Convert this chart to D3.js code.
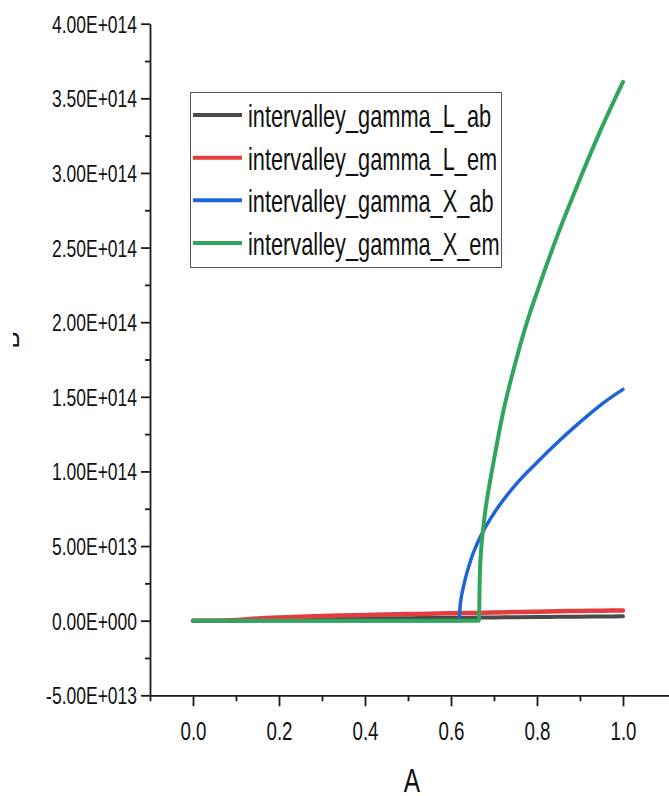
<!DOCTYPE html>
<html>
<head>
<meta charset="utf-8">
<script src="https://cdn.jsdelivr.net/npm/d3@7"></script>
<style>
  html, body { margin: 0; padding: 0; background: #fff; }
  svg { display: block; }
  text { font-family: "Liberation Sans", Arial, sans-serif; fill: #111; }
</style>
</head>
<body>
<svg id="chart" width="669" height="796"></svg>
<script>
// Composition parameter A (x axis)
const gridA = [0, 0.05, 0.1, 0.15, 0.2, 0.25, 0.3, 0.35, 0.4, 0.45, 0.5,
               0.55, 0.6, 0.65, 0.7, 0.75, 0.8, 0.85, 0.9, 0.95, 1.0];

// Intervalley scattering rates Γ→L (absorption / emission)
const gammaLab = [0, 0, 0, 0.4e12, 0.7e12, 0.9e12, 1.1e12, 1.3e12, 1.4e12, 1.6e12, 1.7e12,
                  1.8e12, 1.9e12, 2.0e12, 2.2e12, 2.3e12, 2.4e12, 2.6e12, 2.7e12, 2.8e12, 2.9e12];
const gammaLem = [0, 0, 0.4e12, 1.5e12, 2.2e12, 2.7e12, 3.1e12, 3.5e12, 3.8e12, 4.1e12, 4.4e12,
                  4.7e12, 5.0e12, 5.2e12, 5.5e12, 5.8e12, 6.0e12, 6.3e12, 6.5e12, 6.7e12, 6.9e12];

// Intervalley scattering rates Γ→X (absorption / emission)
const gridXab = [0, 0.2, 0.4, 0.6, 0.618, 0.622, 0.63, 0.64, 0.65, 0.66, 0.675, 0.7,
                 0.75, 0.8, 0.85, 0.9, 0.95, 1.0];
const gammaXab = [0, 0, 0, 0, 0, 0.12e14, 0.24e14, 0.35e14, 0.44e14, 0.51e14, 0.60e14, 0.72e14,
                  0.91e14, 1.06e14, 1.20e14, 1.33e14, 1.45e14, 1.55e14];
const gridXem = [0, 0.2, 0.4, 0.6, 0.665, 0.667, 0.67, 0.675, 0.68, 0.69, 0.7, 0.72,
                 0.75, 0.78, 0.8, 0.85, 0.9, 0.95, 1.0];
const gammaXem = [0, 0, 0, 0, 0, 0.30e14, 0.47e14, 0.62e14, 0.74e14, 0.92e14, 1.08e14, 1.38e14,
                  1.73e14, 2.03e14, 2.20e14, 2.60e14, 2.96e14, 3.30e14, 3.61e14];

// Axis ticks
const xMajor = [0, 0.2, 0.4, 0.6, 0.8, 1.0];
const xMinor = [-0.1, 0.1, 0.3, 0.5, 0.7, 0.9];
const yMajor = [-5e13, 0, 5e13, 1e14, 1.5e14, 2e14, 2.5e14, 3e14, 3.5e14, 4e14];
const yMinor = [-2.5e13, 2.5e13, 7.5e13, 1.25e14, 1.75e14, 2.25e14, 2.75e14, 3.25e14, 3.75e14];

const seriesNames = ["intervalley_gamma_L_ab", "intervalley_gamma_L_em",
                     "intervalley_gamma_X_ab", "intervalley_gamma_X_em"];
const seriesColors = ["#4a4a4a", "#e43d40", "#1c64d8", "#2fa65c"];
const seriesWidths = [4, 4.5, 3.5, 4];

const series = [
  { xs: gridA, ys: gammaLab },
  { xs: gridA, ys: gammaLem },
  { xs: gridXab, ys: gammaXab },
  { xs: gridXem, ys: gammaXem }
].map((s, i) => ({
  name: seriesNames[i], color: seriesColors[i], width: seriesWidths[i],
  points: s.xs.map((a, j) => [a, s.ys[j]])
}));

const svg = d3.select("#chart");

const x = d3.scaleLinear().domain([-0.1, 1.107]).range([150, 669]);
const y = d3.scaleLinear().domain([-5e13, 4e14]).range([695.3, 23.7]);

// Origin-style scientific labels, e.g. 3.50E+014
function sci(d) {
  if (d === 0) return "0.00E+000";
  const sign = d < 0 ? "-" : "";
  const v = Math.abs(d);
  const e = Math.floor(Math.log10(v) + 1e-9);
  const m = v / Math.pow(10, e);
  return sign + m.toFixed(2) + "E+" + String(e).padStart(3, "0");
}

// Squeeze text horizontally to a narrow face
function condense(sel, k) {
  sel.each(function () {
    const w = this.getComputedTextLength();
    d3.select(this).attr("textLength", w * k).attr("lengthAdjust", "spacingAndGlyphs");
  });
}

const axisColor = "#1a1a1a";

// Y axis
const gy = svg.append("g").attr("transform", `translate(${x(-0.1)},0)`);
gy.append("g").call(d3.axisLeft(y).tickValues(yMinor).tickSize(5).tickFormat(""))
  .call(g => g.select(".domain").remove());
gy.append("g").call(d3.axisLeft(y).tickValues(yMajor).tickSize(9).tickSizeOuter(0)
    .tickPadding(4).tickFormat(sci))
  .call(g => g.selectAll("text").attr("font-size", 23).attr("dy", "0.37em")
    .style("font-family", '"Liberation Sans", Arial, sans-serif').attr("fill", "#111"));
gy.selectAll("line, path").attr("stroke", axisColor).attr("stroke-width", 1.8);
condense(gy.selectAll("text"), 0.76);

// X axis
const gx = svg.append("g").attr("transform", `translate(0,${y(-5e13)})`);
gx.append("g").call(d3.axisBottom(x).tickValues(xMinor).tickSize(6).tickFormat(""))
  .call(g => g.select(".domain").remove());
gx.append("g").call(d3.axisBottom(x).tickValues(xMajor).tickSize(11).tickSizeOuter(0)
    .tickFormat(d3.format(".1f")))
  .call(g => g.selectAll("text").attr("font-size", 26).attr("y", 45).attr("dy", 0)
    .style("font-family", '"Liberation Sans", Arial, sans-serif').attr("fill", "#111"));
gx.selectAll("line, path").attr("stroke", axisColor).attr("stroke-width", 1.8);
condense(gx.selectAll("text"), 0.72);

// Axis titles
svg.append("text").attr("x", 412).attr("y", 792).attr("text-anchor", "middle")
  .attr("font-size", 34).text("A").call(condense, 0.72);

svg.append("clipPath").attr("id", "ylab-clip")
  .append("rect").attr("x", 13).attr("y", 300).attr("width", 10).attr("height", 80);
svg.append("g").attr("clip-path", "url(#ylab-clip)")
  .append("text").attr("transform", "translate(18.5,340) rotate(-90)")
  .attr("text-anchor", "middle").attr("font-size", 26).text("B");

// Curves
const line = d3.line().x(d => x(d[0])).y(d => y(d[1])).curve(d3.curveMonotoneX);
svg.append("g").selectAll("path").data(series).join("path")
  .attr("d", d => line(d.points))
  .attr("fill", "none")
  .attr("stroke", d => d.color)
  .attr("stroke-width", d => d.width)
  .attr("stroke-linecap", "round")
  .attr("stroke-linejoin", "miter");

// Legend
const legend = svg.append("g");
legend.append("rect").attr("x", 190.5).attr("y", 92.5).attr("width", 311).attr("height", 175)
  .attr("fill", "#fff").attr("stroke", "#555").attr("stroke-width", 1);
const rowY = d3.scaleLinear().domain([0, 3]).range([115, 243]);
const items = legend.selectAll("g.item").data(series).join("g").attr("class", "item")
  .attr("transform", (d, i) => `translate(0,${rowY(i)})`);
items.append("line").attr("x1", 193).attr("x2", 242).attr("y1", 0).attr("y2", 0)
  .attr("stroke", d => d.color).attr("stroke-width", 4);
items.append("text").attr("x", 248).attr("y", 12).attr("font-size", 32).text(d => d.name)
  .call(condense, 0.68);
</script>
</body>
</html>
